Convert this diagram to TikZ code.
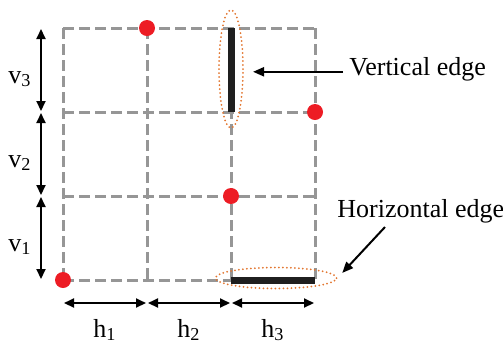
\documentclass[tikz,border=0pt]{standalone}
\usepackage{fontspec}
\setmainfont{Liberation Serif}
\usetikzlibrary{arrows.meta,shapes.geometric,calc}
\definecolor{dotred}{RGB}{237,28,36}
\definecolor{gridgray}{RGB}{150,150,150}
\definecolor{ringorange}{RGB}{226,118,48}
\tikzset{
  gridline/.style={gridgray, line width=1.5pt, dash pattern=on 5.5pt off 2.5pt},
  edgeline/.style={black!88, line width=3.5pt},
  dimarrow/.style={{Triangle[length=5pt,width=4.5pt]}-{Triangle[length=5pt,width=4.5pt]},
    line width=1pt, shorten <=0.5pt, shorten >=0.5pt},
  ptarrow/.style={-{Triangle[length=5.5pt,width=4.5pt]}, line width=1pt},
  gridpt/.style={circle, fill=dotred, inner sep=0pt, minimum size=8pt},
  ring/.style={ellipse, draw=ringorange, line width=1pt, line cap=round,
    dash pattern=on 0pt off 2pt, inner sep=0pt}
}
\begin{document}
\begin{tikzpicture}[x=0.5pt, y=-0.5pt, every node/.style={font=\fontsize{13}{15}\selectfont}]
  \useasboundingbox (0,0) rectangle (503,344);
  \foreach \i/\x in {0/63,1/147,2/231,3/315} {
    \coordinate (b\i) at (\x,303);
    \foreach \j/\y in {0/28,1/112,2/196,3/280}
      \coordinate (g\i\j) at (\x,\y);
  }
  \foreach \j/\y in {0/28,1/112,2/196,3/280}
    \coordinate (l\j) at (41,\y);
  \foreach \j in {0,...,3} \draw[gridline] (g0\j) -- (g3\j);
  \foreach \i in {0,...,3} \draw[gridline] (g\i0) -- (g\i3);
  \draw[edgeline] (g20) -- (g21);
  \draw[edgeline] (g23) -- (g33);
  \node[ring, minimum width=12pt, minimum height=59pt] (vring) at (231,69) {};
  \node[ring, minimum width=60.5pt, minimum height=10.5pt] (hring) at (276,278) {};
  \foreach \p in {g03,g10,g22,g31}
    \node[gridpt] (dot\p) at (\p) {};
  \foreach \a/\b/\t in {l0/l1/3,l1/l2/2,l2/l3/1} {
    \draw[dimarrow] (\a) -- (\b);
    \node[anchor=base, inner sep=0pt] (v\t) at ($(\a)!0.5!(\b)+(-21,13)$) {v\textsubscript{\t}};
  }
  \foreach \a/\b/\t in {b0/b1/1,b1/b2/2,b2/b3/3} {
    \draw[dimarrow] (\a) -- (\b);
    \node[anchor=base, inner sep=0pt] (h\t) at ($(\a)!0.5!(\b)+(0,34)$) {h\textsubscript{\t}};
  }
  \node[anchor=base west, inner sep=0pt] (vtext) at (349,75) {Vertical edge};
  \node[anchor=base west, inner sep=0pt] (htext) at (337,217) {Horizontal edge};
  \coordinate (hstart) at (385,227);
  \draw[ptarrow] ([xshift=-3pt,yshift=-1.5pt]vtext.west) -- ([xshift=4.5pt,yshift=-1.5pt]vtext.west -| vring.east);
  \draw[ptarrow, shorten >=3.5pt] (hstart) -- (hring.east);
\end{tikzpicture}
\end{document}
